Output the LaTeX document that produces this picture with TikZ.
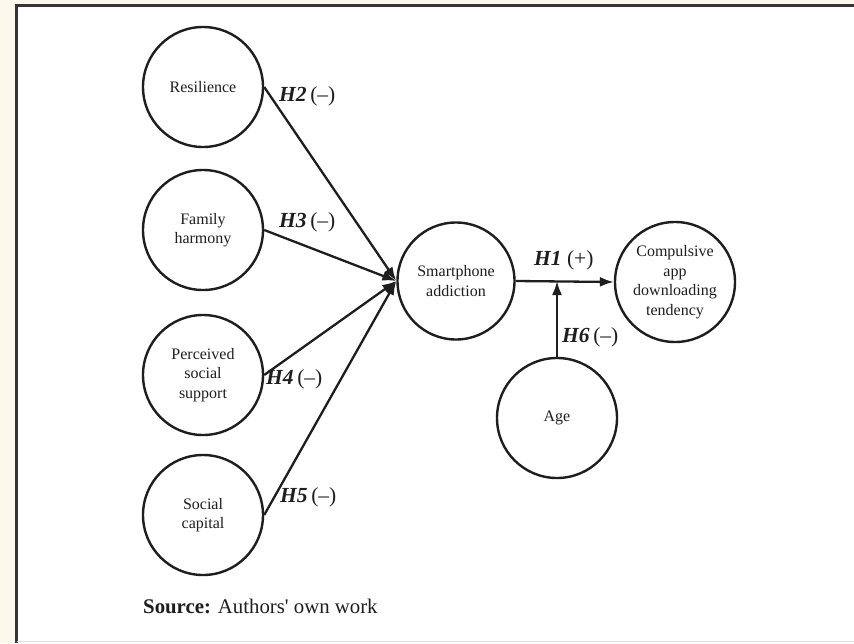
\documentclass[tikz,border=0pt]{standalone}
\usepackage{fontspec}
\setmainfont{Liberation Serif}
\usetikzlibrary{arrows.meta}
\definecolor{cream}{HTML}{FCF8EE}
\definecolor{ink}{HTML}{1E1E1E}
\tikzset{
  var/.style={circle, draw=ink, line width=2.4, minimum size=120, inner sep=0,
    align=center, text=ink, font=\fontsize{16}{19.5}\selectfont},
  path/.style={draw=ink, line width=2.3, -{Latex[length=14,width=10]}},
  hyp/.style={anchor=west, text=ink, inner sep=0, font=\fontsize{21.5}{25}\selectfont}
}
\begin{document}
\begin{tikzpicture}[x=1pt,y=-1pt]
\useasboundingbox (0,0) rectangle (854,643);
\fill[cream] (0,0) rectangle (854,643);
\fill[white] (16,5) rectangle (854,643);
\draw[ink!90, line width=3] (16,643) -- (16,5) -- (854,5);
\draw[black!12, line width=1] (17,641) -- (854,641);

\node[var] (res) at (203,87) {Resilience};
\node[var] (fam) at (203,230) {Family\\harmony};
\node[var] (pss) at (203,375) {Perceived\\social\\support};
\node[var] (sc) at (203,515) {Social\\capital};
\node[var, minimum size=117] (sa) at (456,281) {Smartphone\\addiction};
\node[var] (cad) at (675,282) {Compulsive\\app\\downloading\\tendency};
\node[var] (age) at (557,418) {Age};

\coordinate (hit) at (sa.west);
\draw[path] (res.east) -- (hit);
\draw[path] (fam.east) -- (hit);
\draw[path] (pss.east) -- (hit);
\draw[path] (sc.east) -- (hit);
\draw[path] (sa.east) -- (cad.west);
\coordinate (meet) at (age.north |- sa.east);
\draw[path] (age.north) -- (meet);

\node[hyp] (h2) at (279,96) {\textbf{\textit{H2}}\,(–)};
\node[hyp] (h3) at (279,222) {\textbf{\textit{H3}}\,(–)};
\node[hyp] (h4) at (266,379) {\textbf{\textit{H4}}\,(–)};
\node[hyp] (h5) at (280,497) {\textbf{\textit{H5}}\,(–)};
\node[hyp] (h1) at (534,260) {\textbf{\textit{H1}} (+)};
\node[hyp] (h6) at (562,337) {\textbf{\textit{H6}}\,(–)};

\node[anchor=base west, inner sep=0, text=ink, font=\fontsize{20.8}{24}\selectfont] (src) at (143,613) {\textbf{Source:} Authors\textquotesingle{} own work};
\end{tikzpicture}
\end{document}
